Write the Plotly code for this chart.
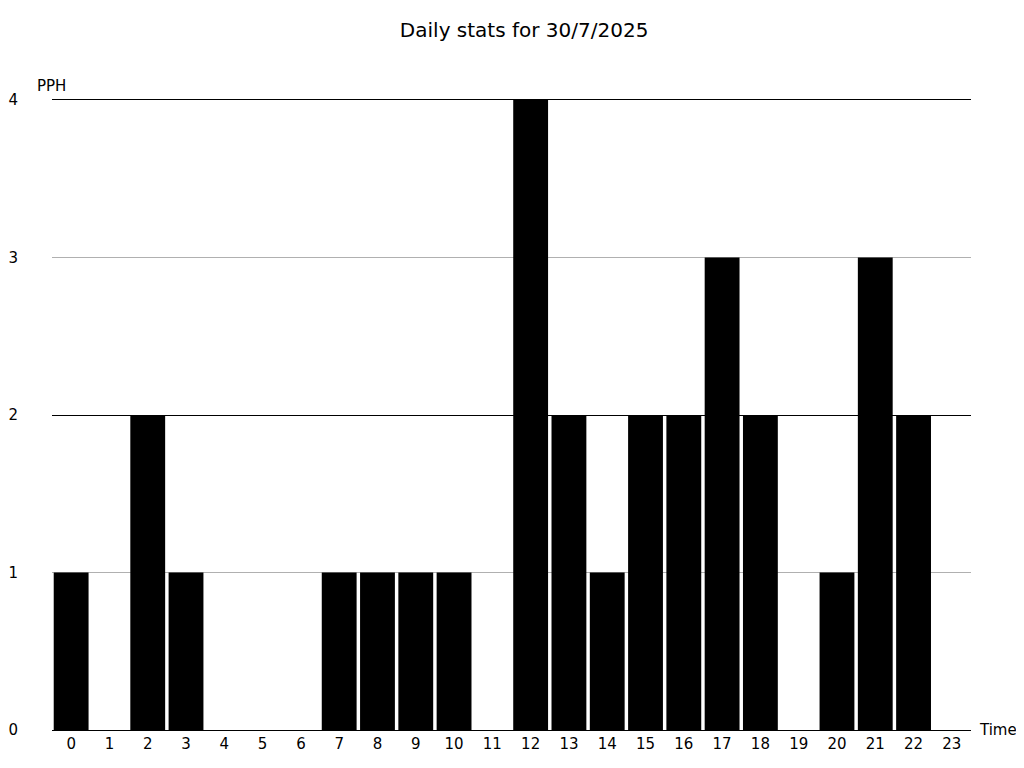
import plotly.graph_objects as go

hours = list(range(24))
hour_labels = [str(h) for h in hours]
pph = [1, 0, 2, 1, 0, 0, 0, 1, 1, 1, 1, 0, 4, 2, 1, 2, 2, 3, 2, 0, 1, 3, 2, 0]
y_ticks = [0, 1, 2, 3, 4]
title_text = "Daily stats for 30/7/2025"

FONT = "DejaVu Sans"

fig = go.Figure()
fig.add_trace(go.Bar(x=hours, y=pph, marker=dict(color="black", line=dict(width=0)),
                     showlegend=False))
# invisible trace to anchor overlay axis
fig.add_trace(go.Scatter(x=[hours[0]], y=[0], yaxis="y2", mode="markers",
                         marker=dict(opacity=0), showlegend=False, hoverinfo="skip"))

fig.update_layout(
    width=1016, height=760,
    paper_bgcolor="white", plot_bgcolor="white",
    font=dict(family=FONT, size=15, color="black"),
    title=dict(text=title_text, x=0.508, xanchor="center", y=0.971, yanchor="middle",
               font=dict(family=FONT, size=20, color="black")),
    margin=dict(l=44, r=53, t=92, b=38, autoexpand=False),
    bargap=0.09,
    xaxis=dict(range=[-0.5, 23.5], tickmode="array", tickvals=hours, ticktext=hour_labels,
               showgrid=False, zeroline=False, showline=True, mirror=True,
               linecolor="black", linewidth=1,
               ticks="", tickfont=dict(size=15), automargin=False),
    yaxis=dict(range=[0, 4], tickmode="array", tickvals=y_ticks,
               showgrid=True, gridcolor="#b0b0b0", gridwidth=1.3, zeroline=False,
               showline=False, ticks="", ticklabelstandoff=33, tickfont=dict(size=15),
               automargin=False),
    yaxis2=dict(range=[0, 4], overlaying="y", side="left", tickmode="array", tickvals=[2, 4],
                showgrid=True, gridcolor="black", gridwidth=1, zeroline=False,
                showticklabels=False, showline=False, ticks="", automargin=False),
    annotations=[
        dict(text="PPH", xref="paper", yref="paper", x=-0.018, y=1.0, xanchor="left",
             yanchor="bottom", yshift=3, showarrow=False, font=dict(size=15)),
        dict(text="Time", xref="paper", yref="paper", x=1.0, y=0, xanchor="left",
             yanchor="middle", xshift=6, showarrow=False, font=dict(size=15)),
    ],
)

fig.write_html("out.html")
